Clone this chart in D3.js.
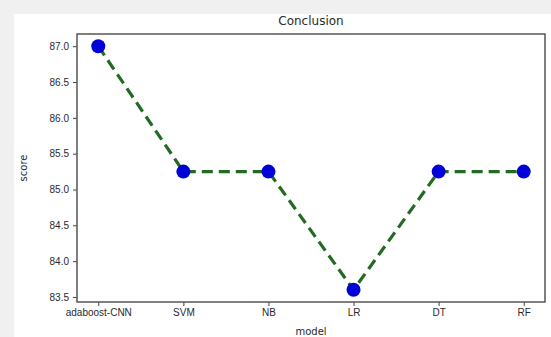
<!DOCTYPE html>
<html>
<head>
<meta charset="utf-8">
<script src="https://cdn.jsdelivr.net/npm/d3@7"></script>
<style>
  body { margin: 0; background: #f0f0f0; }
  svg { display: block; font-family: "DejaVu Sans", sans-serif; }
</style>
</head>
<body>
<svg id="chart" width="551" height="337"></svg>
<script>
// data
var models = ["adaboost-CNN", "SVM", "NB", "LR", "DT", "RF"];
var scores = [87.0, 85.25, 85.25, 83.6, 85.25, 85.25];
var yTicks = [83.5, 84.0, 84.5, 85.0, 85.5, 86.0, 86.5, 87.0];

var svg = d3.select("#chart");
var plotLeft = 77, plotRight = 545, plotTop = 34, plotBottom = 302;

// white figure area
svg.append("rect")
  .attr("x", 14).attr("y", 14)
  .attr("width", 551 - 14).attr("height", 337 - 14)
  .attr("fill", "#fff");

var x = d3.scaleLinear().domain([-0.25, models.length - 1 + 0.25]).range([plotLeft, plotRight]);
var y = d3.scaleLinear().domain([83.43, 87.17]).range([plotBottom, plotTop]);

var yAxis = d3.axisLeft(y)
  .tickValues(yTicks)
  .tickFormat(d3.format(".1f"))
  .tickSize(4).tickPadding(4);
var xAxis = d3.axisBottom(x)
  .tickValues(d3.range(models.length))
  .tickFormat(function(d) { return models[d]; })
  .tickSize(4).tickPadding(3);

var gy = svg.append("g").attr("transform", "translate(" + plotLeft + ",0)").call(yAxis);
var gx = svg.append("g").attr("transform", "translate(0," + plotBottom + ")").call(xAxis);
[gx, gy].forEach(function(g) {
  g.select(".domain").remove();
  g.selectAll("line").attr("stroke", "#444");
  g.selectAll("text").attr("fill", "#2a2a2a").style("font-size", "10px");
});

// frame
svg.append("rect")
  .attr("x", plotLeft).attr("y", plotTop)
  .attr("width", plotRight - plotLeft).attr("height", plotBottom - plotTop)
  .attr("fill", "none").attr("stroke", "#555").attr("stroke-width", 1.5);

// line
var line = d3.line()
  .x(function(d, i) { return x(i); })
  .y(function(d) { return y(d); });
svg.append("path")
  .datum(scores)
  .attr("d", line)
  .attr("fill", "none")
  .attr("stroke", "#236a23")
  .attr("stroke-width", 3.2)
  .attr("stroke-dasharray", "11,6");

svg.selectAll("circle.pt")
  .data(scores)
  .enter().append("circle")
  .attr("class", "pt")
  .attr("cx", function(d, i) { return x(i); })
  .attr("cy", function(d) { return y(d); })
  .attr("r", 7)
  .attr("fill", "#0000d8");

// labels
svg.append("text")
  .attr("x", (plotLeft + plotRight) / 2).attr("y", 25)
  .attr("text-anchor", "middle")
  .attr("fill", "#2a2a2a")
  .style("font-size", "12px")
  .text("Conclusion");
svg.append("text")
  .attr("x", (plotLeft + plotRight) / 2).attr("y", 335)
  .attr("text-anchor", "middle")
  .attr("fill", "#2a2a2a")
  .style("font-size", "10px")
  .text("model");
svg.append("text")
  .attr("transform", "translate(27," + ((plotTop + plotBottom) / 2) + ") rotate(-90)")
  .attr("text-anchor", "middle")
  .attr("fill", "#2a2a2a")
  .style("font-size", "10px")
  .text("score");
</script>
</body>
</html>
